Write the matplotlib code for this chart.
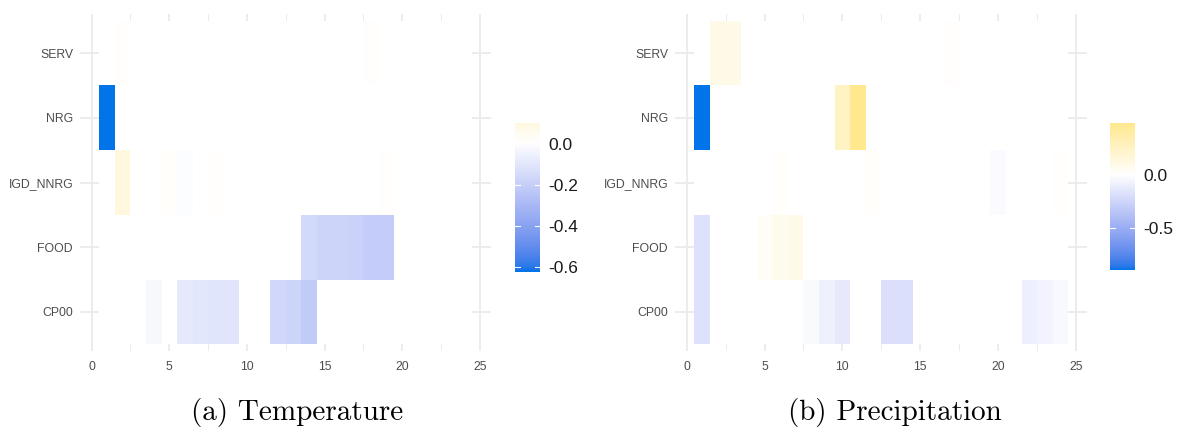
import numpy as np
import matplotlib
matplotlib.use('Agg')
import matplotlib.pyplot as plt
from matplotlib.colors import ListedColormap, Normalize

# categories, bottom to top
cats = ['CP00', 'FOOD', 'IGD_NNRG', 'NRG', 'SERV']
lags = list(range(1, 25))

#Temperature values by lag (1..24)
temp_cp00 = [0, 0, 0, -0.03, 0, -0.09, -0.10, -0.11, -0.11, 0, 0, -0.17,
             -0.18, -0.22, 0, 0, 0, 0, 0, 0, 0, 0, 0, 0]
temp_food = [0, 0, 0, 0, 0, 0, 0, 0, 0, 0, 0, 0,
             0, -0.16, -0.18, -0.18, -0.19, -0.21, -0.21, 0, 0, 0, 0, 0]
temp_igd = [0, 0.10, 0, 0, 0.015, -0.01, 0, 0.01, 0, 0, 0, 0,
            0, 0, 0, 0, 0, 0, 0.01, 0, 0, 0, 0, 0]
temp_nrg = [-0.625, 0, 0, 0, 0, 0, 0, 0, 0, 0, 0, 0,
            0, 0, 0, 0, 0, 0, 0, 0, 0, 0, 0, 0]
temp_serv = [0, 0.01, 0, 0, 0, 0, 0, 0, 0, 0, 0, 0,
             0, 0, 0, 0, 0, 0.01, 0, 0, 0, 0, 0, 0]

#Precipitation values by lag (1..24)
prec_cp00 = [-0.18, 0, 0, 0, 0, 0, 0, -0.03, -0.09, -0.13, 0, 0,
             -0.19, -0.19, 0, 0, 0, 0, 0, 0, 0, -0.10, -0.07, -0.04]
prec_food = [-0.18, 0, 0, 0, 0.04, 0.08, 0.10, 0, 0, 0, 0, 0,
             0, 0, 0, 0, 0, 0, 0, 0, 0, 0, 0, 0]
prec_igd = [0, 0, 0, 0, 0, 0.02, 0, 0, 0, 0, 0, 0.02,
            0, 0, 0, 0, 0, 0, 0, -0.02, 0, 0, 0, 0.015]
prec_nrg = [-0.9, 0, 0, 0, 0, 0, 0, 0, 0, 0.26, 0.49, 0,
            0, 0, 0, 0, 0, 0, 0, 0, 0, 0, 0, 0]
prec_serv = [0, 0.10, 0.10, 0, 0, 0, 0, 0, 0, 0, 0, 0,
             0, 0, 0, 0, 0.015, 0, 0, 0, 0, 0, 0, 0]

temp_ticks = [0.0, -0.2, -0.4, -0.6]
prec_ticks = [0.0, -0.5]
captions = ['(a) Temperature', '(b) Precipitation']

low_col = '#0074E8'
high_col = '#FFD700'


# little srgb <-> lab helpers so the gradient goes through lab like ggplot
def to_lab(hexc):
    c = np.array(matplotlib.colors.to_rgb(hexc))
    c = np.where(c > 0.04045, ((c + 0.055) / 1.055) ** 2.4, c / 12.92)
    m = np.array([[0.4124, 0.3576, 0.1805], [0.2126, 0.7152, 0.0722], [0.0193, 0.1192, 0.9505]])
    xyz = m @ c / np.array([0.95047, 1.0, 1.08883])
    f = np.where(xyz > 0.008856, np.cbrt(xyz), 7.787 * xyz + 16 / 116)
    return np.array([116 * f[1] - 16, 500 * (f[0] - f[1]), 200 * (f[1] - f[2])])


def from_lab(lab):
    fy = (lab[..., 0] + 16) / 116
    fx = fy + lab[..., 1] / 500
    fz = fy - lab[..., 2] / 200
    f = np.stack([fx, fy, fz], axis=-1)
    xyz = np.where(f > 0.2069, f ** 3, (f - 16 / 116) / 7.787) * np.array([0.95047, 1.0, 1.08883])
    mi = np.array([[3.2406, -1.5372, -0.4986], [-0.9689, 1.8758, 0.0415], [0.0557, -0.2040, 1.0570]])
    c = xyz @ mi.T
    c = np.where(c > 0.0031308, 1.055 * np.clip(c, 0, None) ** (1 / 2.4) - 0.055, 12.92 * c)
    return np.clip(c, 0, 1)


# odd number of steps so that 0 lands exactly on white
t = np.linspace(0, 1, 511)[:, None]
lo, hi = to_lab(low_col), to_lab(high_col)
mid = np.array([100.0, 0.0, 0.0])
lab = np.where(t < 0.5, lo + (mid - lo) * (t / 0.5), mid + (hi - mid) * ((t - 0.5) / 0.5))
cols = from_lab(lab)
cols[255] = [1.0, 1.0, 1.0]
cmap = ListedColormap(cols)

fig = plt.figure(figsize=(11.78, 4.32), dpi=100)
fig.patch.set_facecolor('white')

panels = [
    ([temp_cp00, temp_food, temp_igd, temp_nrg, temp_serv], temp_ticks,
     [0.0679, 0.188, 0.3487, 0.779], [0.4372, 0.3704, 0.0212, 0.345]),
    ([prec_cp00, prec_food, prec_igd, prec_nrg, prec_serv], prec_ticks,
     [0.5730, 0.188, 0.3497, 0.779], [0.9423, 0.375, 0.0212, 0.340]),
]

tick_font = ['Liberation Sans', 'DejaVu Sans']
for i, (rows, cticks, apos, cpos) in enumerate(panels):
    z = np.array(rows)
    vmin, vmax = z.min(), z.max()
    M = max(abs(vmin), abs(vmax))
    norm = Normalize(-M, M)

    ax = fig.add_axes(apos)
    xe = np.arange(0.5, len(lags) + 1, 1)
    ye = np.arange(0.5, len(cats) + 1, 1)
    ax.pcolormesh(xe, ye, z, cmap=cmap, norm=norm, zorder=2)
    ax.set_xlim(-0.75, 25.7)
    ax.set_ylim(0.4, 5.6)
    ax.set_xticks([0, 5, 10, 15, 20, 25])
    ax.set_xticks(np.arange(2.5, 25, 5), minor=True)
    ax.set_yticks(range(1, len(cats) + 1))
    ax.set_yticklabels(cats)
    ax.grid(True, which='major', color='#EBEBEB', lw=1.3, zorder=0)
    ax.grid(True, which='minor', axis='x', color='#EBEBEB', lw=0.7, zorder=0)
    ax.set_axisbelow(True)
    ax.tick_params(which='both', length=0, colors='#4D4D4D', labelsize=8.8)
    ax.tick_params(axis='x', pad=7)
    ax.tick_params(axis='y', pad=5)
    for lbl in ax.get_xticklabels() + ax.get_yticklabels():
        lbl.set_family(tick_font)
    for s in ax.spines.values():
        s.set_visible(False)

    #colour bar drawn by hand so it only spans the data range
    cax = fig.add_axes(cpos)
    grad = np.linspace(vmin, vmax, 300)[:, None]
    cax.imshow(grad, cmap=cmap, norm=norm, aspect='auto', origin='lower',
               extent=[0, 1, vmin, vmax])
    cax.set_xlim(0, 1)
    cax.set_ylim(vmin, vmax)
    for v in cticks:
        cax.plot([0, 0.2], [v, v], color='white', lw=0.8)
        cax.plot([0.8, 1], [v, v], color='white', lw=0.8)
    cax.set_xticks([])
    cax.yaxis.tick_right()
    cax.set_yticks(cticks)
    cax.set_yticklabels(['%.1f' % v if v >= 0 else '-%.1f' % abs(v) for v in cticks])
    cax.tick_params(axis='y', length=0, pad=6, labelsize=12.5, colors='#1A1A1A')
    for lbl in cax.get_yticklabels():
        lbl.set_family(['Liberation Sans', 'DejaVu Sans'])
    for s in cax.spines.values():
        s.set_visible(False)

fig.text(0.2521, 0.044, captions[0], ha='center', va='center', fontsize=21, family='cmr10')
fig.text(0.7598, 0.044, captions[1], ha='center', va='center', fontsize=21, family='cmr10')

plt.savefig('out.png', dpi=100, facecolor='white')
